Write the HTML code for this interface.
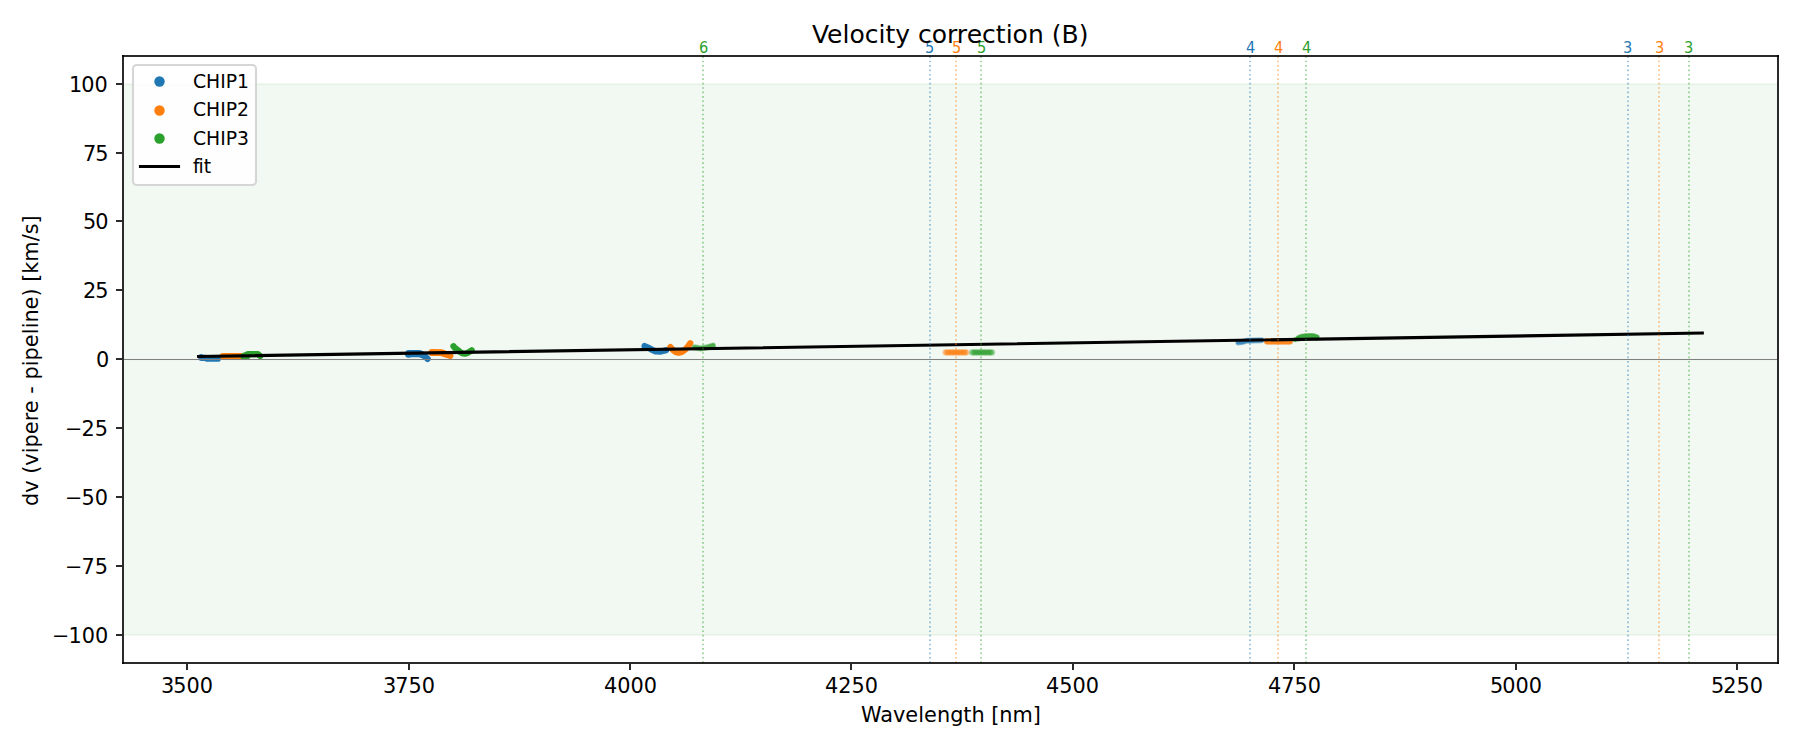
<!DOCTYPE html>
<html lang="en"><head><meta charset="utf-8"><title>Velocity correction (B)</title>
<style>
html,body{margin:0;padding:0;background:#fff;}
body{width:1800px;height:750px;overflow:hidden;}
svg{display:block;position:absolute;left:0;top:0;}
text{font-family:"DejaVu Sans","Liberation Sans",sans-serif;fill:#000;font-kerning:none;font-variant-ligatures:none;white-space:pre;}
.t10{font-size:20.8333px;}.t12{font-size:25px;}.t9{font-size:18.75px;}.t7{font-size:14.5833px;}
</style></head><body>
<svg width="1800" height="750" viewBox="0 0 1800 750">
<rect x="0" y="0" width="1800" height="750" fill="#fff"/>
<g shape-rendering="crispEdges">
<rect x="124" y="82" width="1653" height="1" fill="#fefefe"/>
<rect x="124" y="83" width="1653" height="553" fill="#f2f8f2"/>
<rect x="124" y="84" width="1653" height="1" fill="#e5f1e5"/>
<rect x="124" y="85" width="1653" height="1" fill="#f1f7f1"/>
<rect x="124" y="633" width="1653" height="1" fill="#f1f7f1"/>
<rect x="124" y="634" width="1653" height="1" fill="#e5f1e5"/>
<rect x="124" y="636" width="1653" height="1" fill="#fefefe"/>
</g>
<g fill="none" stroke-linecap="round" stroke-linejoin="round">
<path d="M201.2 357.1 L201.3 357.8 L204.6 357.8 L206.8 358.6 L217.9 358.7" stroke="#1f77b4" stroke-width="6.25" stroke-opacity="1"/>
<path d="M222.8 356.0 L241.5 356.0" stroke="#ff7f0e" stroke-width="6.25" stroke-opacity="1"/>
<path d="M247.3 356.2 L243.4 356.2 L248.0 354.2 L258.0 354.2 L260.3 356.1" stroke="#2ca02c" stroke-width="6.25" stroke-opacity="1"/>
<path d="M408.2 354.7 L413.0 354.0 L419.5 354.0 L423.5 355.6" stroke="#1f77b4" stroke-width="6.25" stroke-opacity="1"/>
<path d="M408.5 353.2 L420.0 353.2 L424.0 355.3 L427.7 358.9" stroke="#1f77b4" stroke-width="6.25" stroke-opacity="1"/>
<path d="M431.9 352.9 L441.0 352.9 L447.0 354.7" stroke="#ff7f0e" stroke-width="6.25" stroke-opacity="1"/>
<path d="M431.7 352.2 L441.0 352.3 L447.0 354.5 L450.3 355.9" stroke="#ff7f0e" stroke-width="6.25" stroke-opacity="1"/>
<path d="M453.5 346.3 L454.8 347.9 L458.0 350.2 L460.5 352.3 L462.8 353.5 L465.5 353.6 L468.0 352.7 L471.7 350.3" stroke="#2ca02c" stroke-width="6.25" stroke-opacity="1"/>
<path d="M644.6 346.0 L648.0 347.5 L652.0 349.8 L656.0 351.5 L660.0 351.6 L664.0 350.8 L666.0 350.2" stroke="#1f77b4" stroke-width="6.25" stroke-opacity="1"/>
<path d="M670.4 347.1 L673.0 350.0 L676.0 352.3 L678.6 352.8 L681.8 352.0 L685.6 349.2 L688.3 346.0 L690.2 343.2" stroke="#ff7f0e" stroke-width="6.25" stroke-opacity="1"/>
<path d="M694.5 347.4 L701.0 348.5 L707.0 347.4 L713.0 345.6" stroke="#2ca02c" stroke-width="6.20" stroke-opacity="0.450"/>
<path d="M694.5 347.4 L701.0 348.5 L707.0 347.4 L713.0 345.6" stroke="#2ca02c" stroke-width="4.40" stroke-opacity="0.727"/>
<g fill="#ff7f0e" stroke="#ff7f0e" fill-opacity="0.3" stroke-opacity="0.3" stroke-width="2.083"><circle cx="945.40" cy="352.40" r="2.083"/><circle cx="946.73" cy="352.40" r="2.083"/><circle cx="948.05" cy="352.40" r="2.083"/><circle cx="949.38" cy="352.40" r="2.083"/><circle cx="950.70" cy="352.40" r="2.083"/><circle cx="952.02" cy="352.40" r="2.083"/><circle cx="953.35" cy="352.40" r="2.083"/><circle cx="954.67" cy="352.40" r="2.083"/><circle cx="956.00" cy="352.40" r="2.083"/><circle cx="957.33" cy="352.40" r="2.083"/><circle cx="958.65" cy="352.40" r="2.083"/><circle cx="959.98" cy="352.40" r="2.083"/><circle cx="961.30" cy="352.40" r="2.083"/><circle cx="962.62" cy="352.40" r="2.083"/><circle cx="963.95" cy="352.40" r="2.083"/><circle cx="965.27" cy="352.40" r="2.083"/><circle cx="966.60" cy="352.40" r="2.083"/></g>
<g fill="#2ca02c" stroke="#2ca02c" fill-opacity="0.3" stroke-opacity="0.3" stroke-width="2.083"><circle cx="972.00" cy="352.40" r="2.083"/><circle cx="973.35" cy="352.40" r="2.083"/><circle cx="974.69" cy="352.40" r="2.083"/><circle cx="976.04" cy="352.40" r="2.083"/><circle cx="977.39" cy="352.40" r="2.083"/><circle cx="978.73" cy="352.40" r="2.083"/><circle cx="980.08" cy="352.40" r="2.083"/><circle cx="981.43" cy="352.40" r="2.083"/><circle cx="982.77" cy="352.40" r="2.083"/><circle cx="984.12" cy="352.40" r="2.083"/><circle cx="985.47" cy="352.40" r="2.083"/><circle cx="986.81" cy="352.40" r="2.083"/><circle cx="988.16" cy="352.40" r="2.083"/><circle cx="989.51" cy="352.40" r="2.083"/><circle cx="990.85" cy="352.40" r="2.083"/><circle cx="992.20" cy="352.40" r="2.083"/></g>
<path d="M1238.3 342.4 L1242.0 342.0 L1247.0 340.7 L1261.2 340.3" stroke="#1f77b4" stroke-width="6.00" stroke-opacity="0.450"/>
<path d="M1238.3 342.4 L1242.0 342.0 L1247.0 340.7 L1261.2 340.3" stroke="#1f77b4" stroke-width="4.40" stroke-opacity="0.727"/>
<path d="M1267.2 341.3 L1289.8 341.3" stroke="#ff7f0e" stroke-width="6.75" stroke-opacity="0.450"/>
<path d="M1267.2 341.3 L1289.8 341.3" stroke="#ff7f0e" stroke-width="5.75" stroke-opacity="0.855"/>
<path d="M1295.2 339.6 L1298.2 338.6" stroke="#2ca02c" stroke-width="5.20" stroke-opacity="0.450"/>
<path d="M1295.2 339.6 L1298.2 338.6" stroke="#2ca02c" stroke-width="4.00" stroke-opacity="0.636"/>
<path d="M1299.3 338.0 L1302.0 337.0 L1305.3 336.6 L1310.7 336.3 L1314.0 336.6 L1316.4 337.4" stroke="#2ca02c" stroke-width="6.70" stroke-opacity="0.450"/>
<path d="M1299.3 338.0 L1302.0 337.0 L1305.3 336.6 L1310.7 336.3 L1314.0 336.6 L1316.4 337.4" stroke="#2ca02c" stroke-width="5.50" stroke-opacity="0.855"/>
</g>
<g shape-rendering="crispEdges">
<rect x="124" y="358" width="1653" height="3" fill="#808080" fill-opacity="0.026"/>
<rect x="124" y="359" width="1653" height="1" fill="#808080"/>
</g>
<path d="M198.60 356.50 L1702.30 333.08" fill="none" stroke="#000" stroke-width="3.125" stroke-linecap="square"/>
<g fill="none" stroke-width="2" stroke-opacity="0.4167" stroke-dasharray="1.6667 2.75">
<path d="M703 663 V56" stroke="#2ca02c"/>
<path d="M930 663 V56" stroke="#1f77b4"/>
<path d="M956 663 V56" stroke="#ff7f0e"/>
<path d="M981 663 V56" stroke="#2ca02c"/>
<path d="M1250 663 V56" stroke="#1f77b4"/>
<path d="M1278 663 V56" stroke="#ff7f0e"/>
<path d="M1306 663 V56" stroke="#2ca02c"/>
<path d="M1628 663 V56" stroke="#1f77b4"/>
<path d="M1659 663 V56" stroke="#ff7f0e"/>
<path d="M1689 663 V56" stroke="#2ca02c"/>
</g>
<g fill="#000" fill-opacity="0.8353" shape-rendering="crispEdges">
<rect x="122" y="55" width="2" height="609"/>
<rect x="1777" y="55" width="2" height="609"/>
<rect x="122" y="55" width="1657" height="2"/>
<rect x="122" y="662" width="1657" height="2"/>
<rect x="186" y="664" width="2" height="6"/>
<rect x="408" y="664" width="2" height="6"/>
<rect x="629" y="664" width="2" height="6"/>
<rect x="850" y="664" width="2" height="6"/>
<rect x="1072" y="664" width="2" height="6"/>
<rect x="1293" y="664" width="2" height="6"/>
<rect x="1515" y="664" width="2" height="6"/>
<rect x="1736" y="664" width="2" height="6"/>
<rect x="116" y="634" width="6" height="2"/>
<rect x="116" y="565" width="6" height="2"/>
<rect x="116" y="496" width="6" height="2"/>
<rect x="116" y="427" width="6" height="2"/>
<rect x="116" y="358" width="6" height="2"/>
<rect x="116" y="289" width="6" height="2"/>
<rect x="116" y="220" width="6" height="2"/>
<rect x="116" y="152" width="6" height="2"/>
<rect x="116" y="83" width="6" height="2"/>
</g>
<text class="t10" x="160.96 173.21 186.46 199.71" y="693.00">3500</text>
<text class="t10" x="382.98 395.23 408.48 421.73" y="693.00">3750</text>
<text class="t10" x="604.00 617.25 630.50 643.75" y="693.00">4000</text>
<text class="t10" x="825.02 838.27 851.52 864.77" y="693.00">4250</text>
<text class="t10" x="1046.03 1059.28 1072.53 1085.78" y="693.00">4500</text>
<text class="t10" x="1268.06 1281.31 1294.56 1307.81" y="693.00">4750</text>
<text class="t10" x="1489.95 1502.20 1515.45 1528.70" y="693.00">5000</text>
<text class="t10" x="1710.97 1723.22 1736.47 1749.72" y="693.00">5250</text>
<text class="t10" x="52.02 68.46 81.72 94.97" y="643.00">−100</text>
<text class="t10" x="65.02 81.46 94.72" y="574.00">−75</text>
<text class="t10" x="65.02 81.46 94.72" y="505.00">−50</text>
<text class="t10" x="65.02 81.46 94.72" y="436.00">−25</text>
<text class="t10" x="96.03" y="367.00">0</text>
<text class="t10" x="83.04 95.29" y="298.00">25</text>
<text class="t10" x="83.04 95.29" y="229.00">50</text>
<text class="t10" x="83.04 95.29" y="161.00">75</text>
<text class="t10" x="69.03 81.28 94.53" y="92.00">100</text>
<text class="t10" x="860.96 880.30 893.05 905.13 918.19 923.99 936.93 950.13 963.23 971.38 984.59 991.21 999.34 1012.54 1032.82" y="722.00">Wavelength [nm]</text>
<text class="t10" transform="translate(37.94 360.67) rotate(-90)" x="-145.22 -132.00 -119.67 -113.06 -105.19 -92.61 -86.83 -73.59 -60.66 -52.59 -39.41 -33.16 -25.27 -18.91 -5.69 0.11 13.33 26.39 32.30 38.09 51.17 64.11 72.11 78.86 86.86 98.92 119.33 126.34 137.08" y="0">dv (vipere - pipeline) [km/s]</text>
<text class="t7" transform="translate(703.66 52.94) scale(1 1.1)" x="-4.64" y="0" style="fill:#2ca02c">6</text>
<text class="t7" transform="translate(929.66 52.94) scale(1 1.1)" x="-4.64" y="0" style="fill:#1f77b4">5</text>
<text class="t7" transform="translate(956.69 52.94) scale(1 1.1)" x="-4.64" y="0" style="fill:#ff7f0e">5</text>
<text class="t7" transform="translate(981.64 52.94) scale(1 1.1)" x="-4.64" y="0" style="fill:#2ca02c">5</text>
<text class="t7" transform="translate(1250.59 52.94) scale(1 1.1)" x="-4.64" y="0" style="fill:#1f77b4">4</text>
<text class="t7" transform="translate(1278.64 52.94) scale(1 1.1)" x="-4.64" y="0" style="fill:#ff7f0e">4</text>
<text class="t7" transform="translate(1306.64 52.94) scale(1 1.1)" x="-4.64" y="0" style="fill:#2ca02c">4</text>
<text class="t7" transform="translate(1627.60 52.94) scale(1 1.1)" x="-4.64" y="0" style="fill:#1f77b4">3</text>
<text class="t7" transform="translate(1659.69 52.94) scale(1 1.1)" x="-4.64" y="0" style="fill:#ff7f0e">3</text>
<text class="t7" transform="translate(1688.59 52.94) scale(1 1.1)" x="-4.64" y="0" style="fill:#2ca02c">3</text>
<text class="t12" x="811.99 826.96 842.46 849.41 864.71 878.46 885.40 895.19 909.74 917.94 931.69 946.98 956.63 966.79 981.91 995.66 1005.73 1012.41 1027.96 1044.30 1051.76 1061.51 1078.65" y="43.00">Velocity correction (B)</text>
<rect x="133" y="65" width="123" height="120" rx="3.75" ry="3.75" fill="#fff" fill-opacity="0.8" stroke="#ccc" stroke-opacity="0.8" stroke-width="2.0833"/>
<circle cx="159.5" cy="81.5" r="5.2" fill="#1f77b4"/>
<circle cx="159.5" cy="110.5" r="5.2" fill="#ff7f0e"/>
<circle cx="159.5" cy="138.5" r="5.2" fill="#2ca02c"/>
<path d="M140.5 166.5 H178.5" stroke="#000" stroke-width="3.125" stroke-linecap="square" fill="none"/>
<text class="t9" x="192.93 206.00 220.24 225.64 236.94" y="88.00">CHIP1</text>
<text class="t9" x="192.93 206.00 220.24 225.64 236.94" y="116.00">CHIP2</text>
<text class="t9" x="192.93 206.00 220.24 225.64 236.94" y="145.00">CHIP3</text>
<text class="t9" x="192.93 198.52 203.72" y="173.00">fit</text>
</svg>
</body></html>
